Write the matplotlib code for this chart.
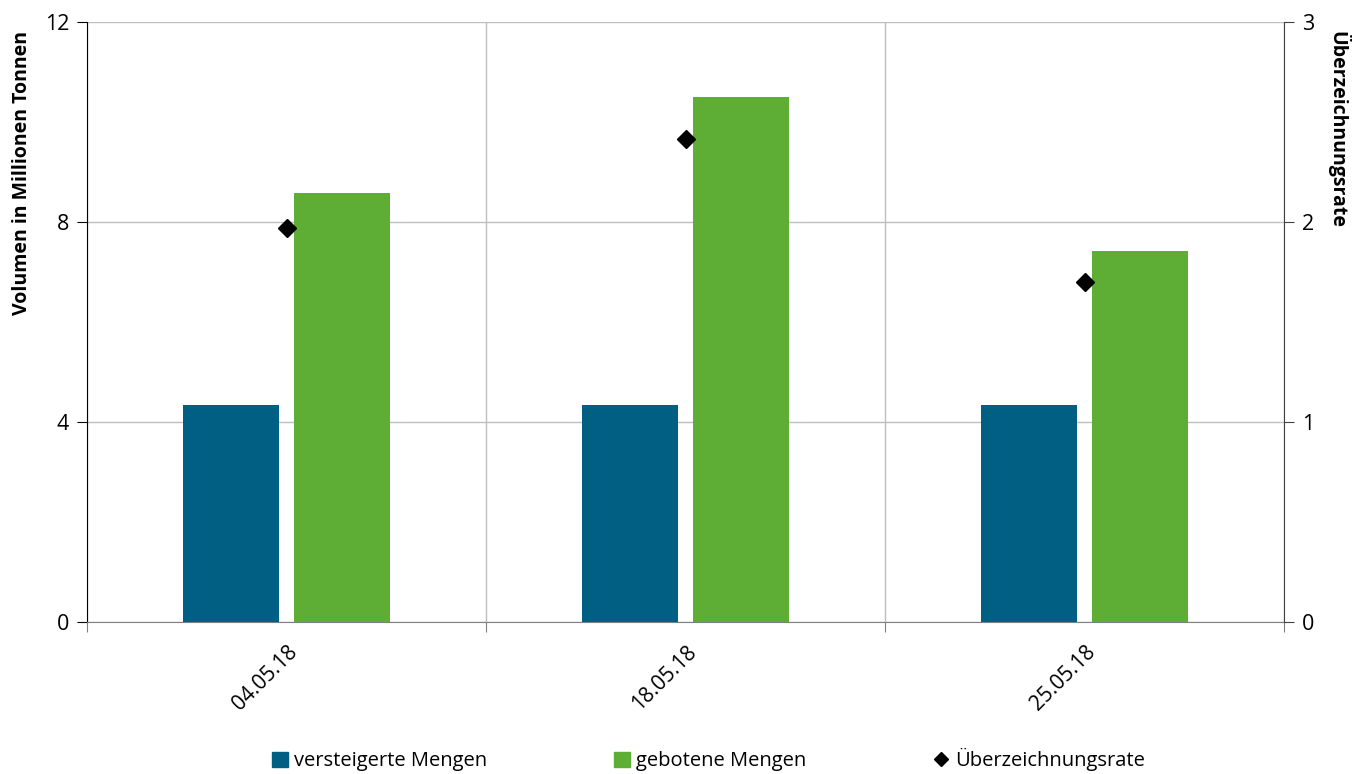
import numpy as np
import matplotlib
matplotlib.use("Agg")
import matplotlib.pyplot as plt
from matplotlib.lines import Line2D
from matplotlib.patches import Patch

plt.rcParams['font.family'] = ['Open Sans', 'DejaVu Sans']

dates = ['04.05.18', '18.05.18', '25.05.18']
versteigert = [4.35, 4.35, 4.35]
geboten = [8.58, 10.5, 7.42]
rate = [1.97, 2.415, 1.70]

blue = '#005F83'
green = '#5EAD35'

fig = plt.figure(figsize=(13.52, 7.74), dpi=100)
ax = fig.add_axes([87/1352, 1 - 622/774, (1284 - 87)/1352, 600/774])
ax2 = ax.twinx()

x = np.arange(len(dates))
w = 0.24
ax.bar(x - 0.139, versteigert, w, color=blue, zorder=3)
ax.bar(x + 0.139, geboten, w, color=green, zorder=3)
ax2.plot(x, rate, linestyle='none', marker='D', markersize=9, color='black', zorder=4)

ax.set_xlim(-0.5, 2.5)
ax.set_ylim(0, 12)
ax.set_yticks([0, 4, 8, 12])
ax2.set_ylim(0, 3)
ax2.set_yticks([0, 1, 2, 3])

# category boundaries as vertical grid, labels at centers
ax.set_xticks([-0.5, 0.5, 1.5, 2.5])
ax.set_xticklabels([])
ax.set_xticks(x, minor=True)
ax.set_xticklabels(dates, minor=True, rotation=45, ha='right', rotation_mode='anchor', fontsize=15)
ax.tick_params(axis='x', which='minor', length=0, pad=14)
ax.tick_params(axis='x', which='major', length=7, color='#808080')
ax.grid(True, axis='both', which='major', color='#BEBEBE', linewidth=1, zorder=0)
ax.set_axisbelow(True)

ax.tick_params(axis='y', labelsize=15.5, length=7, pad=6)
ax2.tick_params(axis='y', labelsize=15.5, length=7, pad=6, color='#404040')

ax.spines['top'].set_visible(False)
ax2.spines['top'].set_visible(False)
ax.spines['bottom'].set_color('#808080')
ax2.spines['bottom'].set_visible(False)
ax2.spines['left'].set_visible(False)
ax.spines['right'].set_visible(False)
ax2.spines['right'].set_color('#404040')

ax.set_ylabel('Volumen in Millionen Tonnen', fontsize=14, fontweight='bold')
ax.yaxis.label.set_ha('right')
ax.yaxis.set_label_coords(-0.046, 0.985)
ax2.set_ylabel('Überzeichnungsrate', fontsize=14, fontweight='bold', rotation=270)
ax2.yaxis.label.set_ha('left')
ax2.yaxis.set_label_coords(1.055, 0.985)

handles = [Patch(color=blue), Patch(color=green),
           Line2D([], [], linestyle='none', marker='D', markersize=7, color='black')]
labels = ['versteigerte Mengen', 'gebotene Mengen', 'Überzeichnungsrate']
fig.legend(handles, labels, loc='lower center', bbox_to_anchor=(0.524, -0.02), ncol=3,
           frameon=False, fontsize=14.5, handlelength=0.8, handleheight=0.8,
           handletextpad=0.3, columnspacing=6.3)

fig.savefig('out.png', dpi=100)
